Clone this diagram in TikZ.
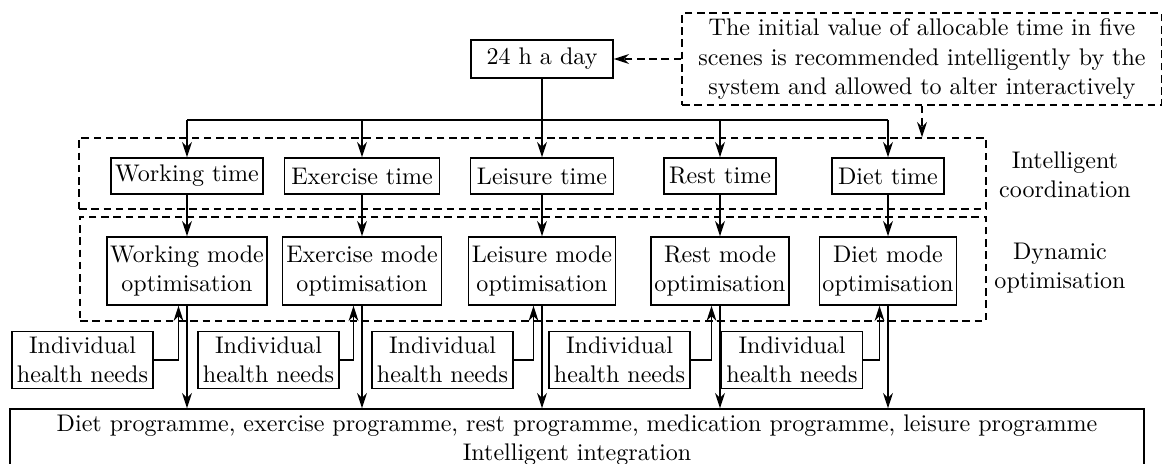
\documentclass[tikz,border=0pt]{standalone}
\usetikzlibrary{arrows.meta,calc}
\newcommand\pu{0.4243pt}
\begin{document}
\begin{tikzpicture}[x=0.4243pt,y=-0.4243pt,
  every node/.style={font=\fontsize{10.2}{12.4}\selectfont},
  box/.style={draw,line width=0.6pt,inner sep=0pt,align=center},
  dbox/.style={draw,line width=0.6pt,dash pattern=on 3.2pt off 2pt,inner sep=0pt,align=center},
  lab/.style={inner sep=0pt,align=center},
  arr/.style={line width=0.6pt,-{Stealth[length=6.5pt,width=4.2pt]}},
  darr/.style={line width=0.6pt,dash pattern=on 3.2pt off 2pt,-{Stealth[length=6.5pt,width=4.2pt]}},
  ln/.style={line width=0.6pt}]
\useasboundingbox (0,0) rectangle (1162,464);
% dashed group boxes
\node[dbox,minimum width=907*\pu,minimum height=71*\pu] (coord) at (532.5,173.5) {};
\node[dbox,minimum width=906*\pu,minimum height=104*\pu] (dyn) at (533,269) {};
% top
\node[box,minimum width=142*\pu,minimum height=38*\pu] (day) at (542,59) {24 h a day};
\node[dbox,minimum width=480*\pu,minimum height=92*\pu] (note) at (922,59) {The initial value of allocable time in five\\scenes is recommended intelligently by the\\system and allowed to alter interactively};
% time boxes
\node[box,minimum width=152*\pu,minimum height=36*\pu] (wt) at (187,176) {Working time};
\node[box,minimum width=155*\pu,minimum height=36*\pu] (et) at (362,176) {Exercise time};
\node[box,minimum width=143*\pu,minimum height=36*\pu] (lt) at (542,176) {Leisure time};
\node[box,minimum width=112*\pu,minimum height=36*\pu] (rt) at (720,176) {Rest time};
\node[box,minimum width=112*\pu,minimum height=36*\pu] (dt) at (888,176) {Diet time};
% mode boxes
\node[box,minimum width=160*\pu,minimum height=68*\pu] (wm) at (187,271) {Working mode\\optimisation};
\node[box,minimum width=159*\pu,minimum height=68*\pu] (em) at (362,271) {Exercise mode\\optimisation};
\node[box,minimum width=147*\pu,minimum height=68*\pu] (lm) at (542,271) {Leisure mode\\optimisation};
\node[box,minimum width=138*\pu,minimum height=68*\pu] (rm) at (720,271) {Rest mode\\optimisation};
\node[box,minimum width=137*\pu,minimum height=68*\pu] (dm) at (888,271) {Diet mode\\optimisation};
% needs boxes
\node[box,minimum width=141*\pu,minimum height=57*\pu] (n1) at (82.5,360) {Individual\\health needs};
\node[box,minimum width=141*\pu,minimum height=57*\pu] (n2) at (268.5,360) {Individual\\health needs};
\node[box,minimum width=141*\pu,minimum height=57*\pu] (n3) at (442.5,360) {Individual\\health needs};
\node[box,minimum width=141*\pu,minimum height=57*\pu] (n4) at (619.5,360) {Individual\\health needs};
\node[box,minimum width=141*\pu,minimum height=57*\pu] (n5) at (792,360) {Individual\\health needs};
% bottom
\node[box,minimum width=1134*\pu,minimum height=62*\pu] (bot) at (577,440) {Diet programme, exercise programme, rest programme, medication programme, leisure programme\\Intelligent integration};
% labels
\node[lab] (l1) at (1065,175) {Intelligent\\coordination};
\node[lab] (l2) at (1060,268) {Dynamic\\optimisation};
% connectors
\coordinate (busy) at (0,120);
\draw[ln] (wt.north |- busy) -- (dt.north |- busy);
\draw[arr] (day.south) -- (lt.north);
\foreach \n in {wt,et,rt,dt} \draw[arr] (\n.north |- busy) -- (\n.north);
\draw[darr] (note.west) -- (day.east);
\draw[darr] (note.south) -- (note.south |- coord.north);
\foreach \t/\m in {wt/wm,et/em,lt/lm,rt/rm,dt/dm} {
  \draw[arr] (\t.south) -- (\t.south |- \m.north);
  \draw[arr] (\m.south) -- (\m.south |- bot.north);
}
\foreach \n/\m in {n1/wm,n2/em,n3/lm,n4/rm,n5/dm}
  \draw[arr] (\n.east) -| ($(\m.south)+(-8.5,0)$);
\end{tikzpicture}
\end{document}
